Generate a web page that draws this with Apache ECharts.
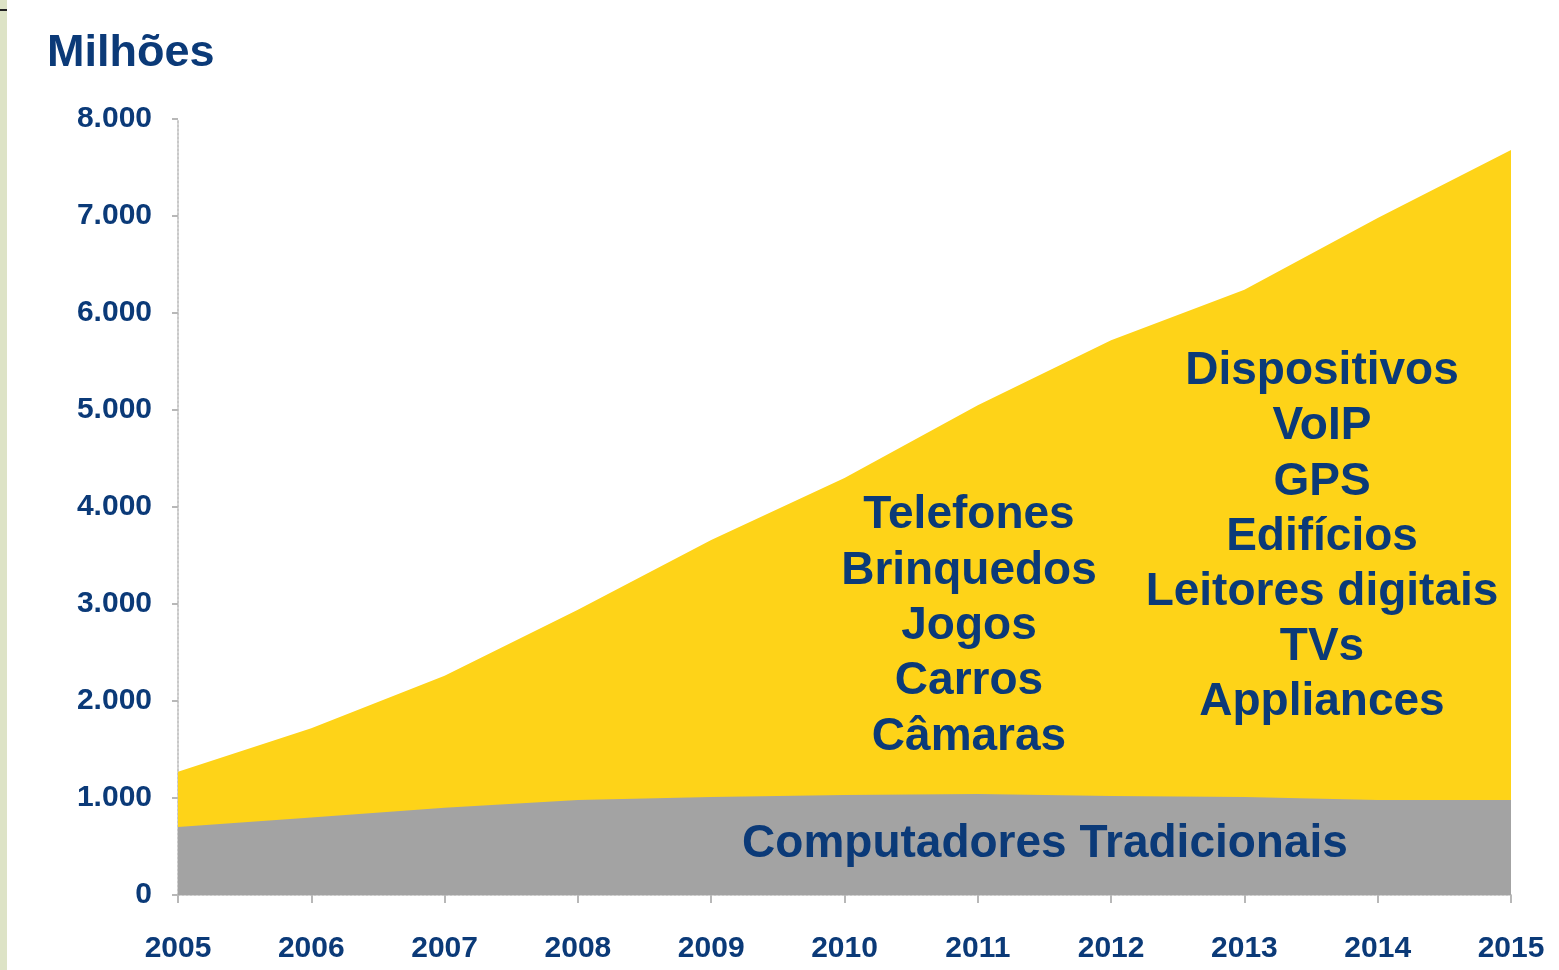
<!DOCTYPE html>
<html>
<head>
<meta charset="utf-8">
<script src="https://cdn.jsdelivr.net/npm/echarts@6/dist/echarts.min.js"></script>
<style>
  html, body { margin: 0; padding: 0; background: #fff; }
  #chart { width: 1559px; height: 970px; }
</style>
</head>
<body>
<div id="chart"></div>
<script>
// anos e valores (milhões)
const anos = ['2005', '2006', '2007', '2008', '2009', '2010', '2011', '2012', '2013', '2014', '2015'];
const totalDispositivos = [1270, 1720, 2260, 2940, 3660, 4300, 5050, 5720, 6240, 6980, 7680];
const computadores = [700, 800, 900, 980, 1010, 1030, 1040, 1020, 1010, 980, 980];
const rotulosMeio = ['Telefones', 'Brinquedos', 'Jogos', 'Carros', 'Câmaras'];
const rotulosDireita = ['Dispositivos', 'VoIP', 'GPS', 'Edifícios', 'Leitores digitais', 'TVs', 'Appliances'];

const azul = '#0b3a78';
const fonte = '"Liberation Sans", Arial, sans-serif';

const chart = echarts.init(document.getElementById('chart'));

const option = {
    animation: false,
    backgroundColor: '#fff',
    grid: { left: 178, right: 48, top: 119, bottom: 75 },
    xAxis: {
        type: 'category',
        data: anos,
        boundaryGap: false,
        axisLine: { lineStyle: { color: '#c8c8c8', width: 2, type: 'dotted' } },
        axisTick: { show: true, length: 8, lineStyle: { color: '#b8b8b8', width: 2 } },
        axisLabel: { color: azul, fontFamily: fonte, fontWeight: 'bold', fontSize: 30, margin: 39 }
    },
    yAxis: {
        type: 'value',
        min: 0,
        max: 8000,
        interval: 1000,
        axisLine: { show: true, lineStyle: { color: '#c8c8c8', width: 2, type: 'dotted' } },
        axisTick: { show: true, length: 6, lineStyle: { color: '#b8b8b8', width: 2 } },
        splitLine: { show: false },
        axisLabel: {
            color: azul, fontFamily: fonte, fontWeight: 'bold', fontSize: 30, margin: 26,
            formatter: v => v === 0 ? '0' : String(v).replace(/\B(?=(\d{3})+(?!\d))/g, '.')
        }
    },
    series: [
        {
            name: 'Outros dispositivos',
            type: 'line',
            data: totalDispositivos,
            symbol: 'none',
            lineStyle: { width: 0 },
            areaStyle: { color: '#fed318', opacity: 1 },
            z: 1
        },
        {
            name: 'Computadores Tradicionais',
            type: 'line',
            data: computadores,
            symbol: 'none',
            lineStyle: { width: 0 },
            areaStyle: { color: '#a3a3a3', opacity: 1 },
            z: 2
        }
    ],
    graphic: [
        { type: 'rect', left: 0, top: 0, shape: { width: 7, height: 970 }, style: { fill: '#dde3c6' } },
        { type: 'rect', left: 0, top: 9, shape: { width: 7, height: 2 }, style: { fill: '#222' } },
        {
            type: 'text', left: 47, top: 31,
            style: { text: 'Milhões', fill: azul, font: 'bold 45px ' + fonte }
        },
        {
            type: 'text', x: 969, y: 488, z: 10,
            style: { text: rotulosMeio.join('\n'), fill: azul, font: 'bold 46px ' + fonte, align: 'center', lineHeight: 55.3 }
        },
        {
            type: 'text', x: 1322, y: 344, z: 10,
            style: { text: rotulosDireita.join('\n'), fill: azul, font: 'bold 46px ' + fonte, align: 'center', lineHeight: 55.2 }
        },
        {
            type: 'text', x: 1045, y: 821, z: 10,
            style: { text: 'Computadores Tradicionais', fill: azul, font: 'bold 46px ' + fonte, align: 'center' }
        }
    ]
};

chart.setOption(option);
</script>
</body>
</html>
